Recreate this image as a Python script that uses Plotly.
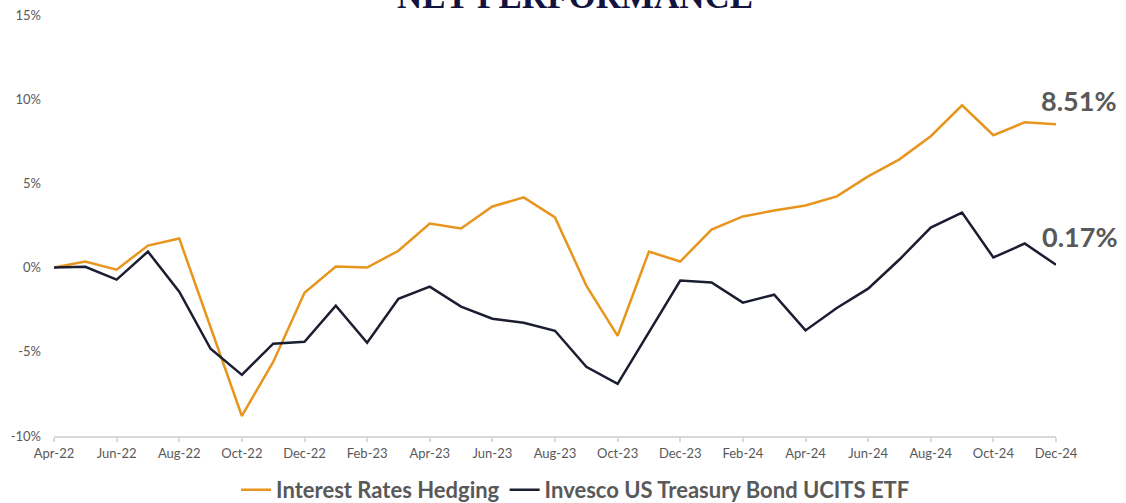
import plotly.graph_objects as go

months = ["Apr-22","May-22","Jun-22","Jul-22","Aug-22","Sep-22","Oct-22","Nov-22","Dec-22",
          "Jan-23","Feb-23","Mar-23","Apr-23","May-23","Jun-23","Jul-23","Aug-23","Sep-23",
          "Oct-23","Nov-23","Dec-23","Jan-24","Feb-24","Mar-24","Apr-24","May-24","Jun-24",
          "Jul-24","Aug-24","Sep-24","Oct-24","Nov-24","Dec-24"]

irh = [0.0, 0.36, -0.12, 1.31, 1.73, -3.5, -8.81, -5.6, -1.49,
       0.06, 0.0, 1.0, 2.62, 2.32, 3.63, 4.17, 2.98, -1.07,
       -4.05, 0.95, 0.36, 2.26, 3.04, 3.39, 3.69, 4.23, 5.42,
       6.43, 7.8, 9.64, 7.86, 8.63, 8.51]

etf = [0.0, 0.05, -0.71, 0.95, -1.43, -4.82, -6.37, -4.52, -4.4,
       -2.26, -4.46, -1.85, -1.13, -2.32, -3.04, -3.27, -3.75, -5.89,
       -6.9, -3.8, -0.77, -0.88, -2.08, -1.61, -3.73, -2.4, -1.25,
       0.48, 2.38, 3.27, 0.6, 1.43, 0.17]

series_names = ["Interest Rates Hedging", "Invesco US Treasury Bond UCITS ETF"]
tick_labels = months[::2]
y_ticks = [-10, -5, 0, 5, 10, 15]

ORANGE = "#E8951E"
NAVY = "#1B1D30"
GRAY = "#595959"
FONT = "Lato"

fig = go.Figure()
fig.add_trace(go.Scatter(x=months, y=irh, mode="lines", name=series_names[0],
                         line=dict(color=ORANGE, width=2.5)))
fig.add_trace(go.Scatter(x=months, y=etf, mode="lines", name=series_names[1],
                         line=dict(color=NAVY, width=2.5)))

fig.add_annotation(x=months[-1], y=irh[-1], text=f"<b>{irh[-1]:.2f}%</b>",
                   showarrow=False, xanchor="left", yanchor="middle",
                   xshift=-17, yshift=24, font=dict(family=FONT, size=27, color=GRAY))
fig.add_annotation(x=months[-1], y=etf[-1], text=f"<b>{etf[-1]:.2f}%</b>",
                   showarrow=False, xanchor="left", yanchor="middle",
                   xshift=-16, yshift=28, font=dict(family=FONT, size=27, color=GRAY))

fig.add_annotation(xref="paper", yref="paper", x=0.52, y=1.0, yshift=-3,
                   text="<b>NET PERFORMANCE</b>", showarrow=False,
                   xanchor="center", yanchor="bottom",
                   font=dict(family="Liberation Serif", size=35, color="#12143F"))

fig.update_layout(
    width=1126, height=503,
    margin=dict(l=54, r=70, t=15, b=67, autoexpand=False),
    paper_bgcolor="white", plot_bgcolor="white",
    font=dict(family=FONT, color=GRAY),
    showlegend=True,
    legend=dict(orientation="h", x=0.5205, xanchor="center", y=-0.078, yanchor="top",
                font=dict(family=FONT, size=22, color=GRAY, weight="bold"),
                itemwidth=30, tracegroupgap=0),
)
fig.update_xaxes(type="category", range=[0, len(months) - 1], automargin=False,
                 tickmode="array", tickvals=tick_labels, ticktext=tick_labels,
                 showline=True, linecolor="#D9D9D9", linewidth=2,
                 ticks="outside", tickcolor="#D9D9D9", ticklen=4, tickwidth=2,
                 showgrid=False, zeroline=False, ticklabeloverflow="allow",
                 tickfont=dict(family=FONT, size=13, color=GRAY))
fig.update_yaxes(range=[-10, 15], tickmode="array", tickvals=y_ticks, automargin=False,
                 ticktext=[f"{v}%" for v in y_ticks],
                 showgrid=False, zeroline=False, showline=False,
                 ticks="", ticklabelstandoff=12, ticklabeloverflow="allow",
                 tickfont=dict(family=FONT, size=13, color=GRAY))

fig.write_html("out.html", config={"displayModeBar": False},
               post_script="document.body.style.margin='0px';")
